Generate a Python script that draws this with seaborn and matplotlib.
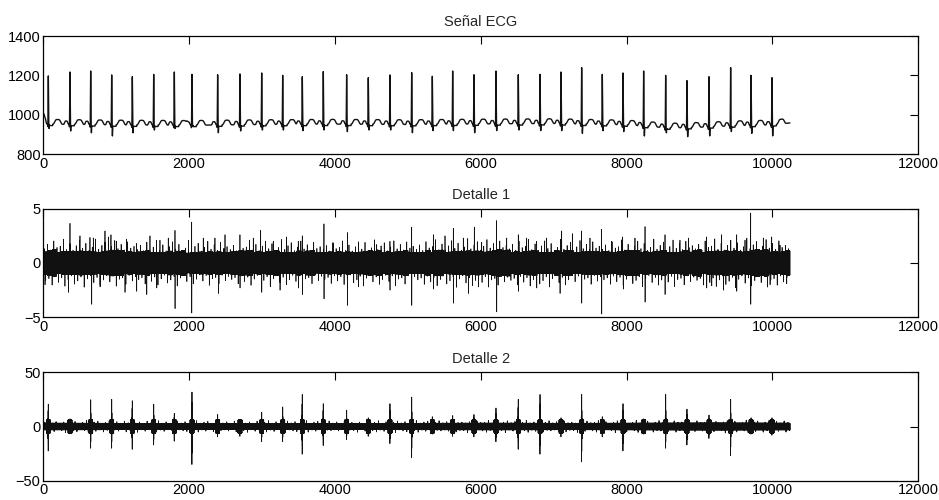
import numpy as np
import pandas as pd
import matplotlib
matplotlib.use("Agg")
import matplotlib.pyplot as plt
import seaborn as sns

N_SAMPLES = 10240

# latidos: posicion del pico R (muestra), altura del pico R y minimo de la onda S
beat_pos = [69, 366, 650, 938, 1221, 1514, 1797, 2039, 2391, 2697, 2995, 3283,
            3552, 3840, 4160, 4457, 4754, 5052, 5335, 5614, 5906, 6208, 6514,
            6812, 7100, 7383, 7666, 7950, 8233, 8535, 8827, 9129, 9426, 9706, 9993]
r_peak = [1197, 1217, 1222, 1202, 1193, 1205, 1217, 1205, 1203, 1207, 1212, 1200,
          1193, 1219, 1203, 1188, 1202, 1214, 1195, 1222, 1203, 1222, 1203,
          1205, 1217, 1239, 1205, 1212, 1222, 1200, 1173, 1193, 1239, 1200, 1188]
s_min = [930, 917, 908, 892, 908, 922, 930, 942, 908, 917, 922, 922,
         919, 922, 914, 922, 922, 908, 919, 919, 908, 919, 922,
         919, 919, 905, 919, 914, 892, 908, 888, 892, 914, 905, 892]

# linea base de la senal
base_x = [0, 40, 1000, 2000, 3000, 4000, 5000, 6000, 7000, 8000, 8600, 9000, 9500, 10000, 10239]
base_y = [995, 952, 948, 946, 950, 952, 950, 953, 955, 948, 932, 936, 944, 948, 958]

# detalle 2: picos positivos / negativos en cada latido
d2_pos = [20.6, 7, 24.6, 25, 23.7, 20.6, 12, 31.7, 11, 6, 13, 18,
          29.5, 21, 15, 8, 21, 27, 9, 10, 11, 17, 25,
          29.5, 8, 29.5, 9, 21, 7, 29.5, 16, 10.5, 25, 8, 8]
d2_neg = [22.5, 6, 20, 20, 21, 17, 13.5, 35, 9.5, 9, 14, 14,
          25.5, 17.5, 12, 9, 15.7, 28.6, 7, 9, 9.5, 14, 21,
          25.5, 9.5, 32.6, 9.5, 22.5, 7, 20, 17, 11, 27, 7, 8]

# detalle 1: picos sobresalientes
d1_up_pos = [366, 503, 640, 686, 846, 892, 928, 1006, 1143, 1280, 1463, 1600, 1714, 1806,
             2035, 2194, 2354, 2492, 2697, 2880, 2981, 3154, 3337, 3497, 3552, 3849, 3977,
             4174, 4412, 4572, 4754, 5052, 5349, 5509, 5623, 5760, 5911, 6012, 6217, 6355,
             6514, 6629, 6766, 6903, 7109, 7255, 7383, 7497, 7657, 7794, 7945, 8114, 8252,
             8526, 8731, 8846, 9097, 9303, 9509, 9623, 9701, 9874, 9989, 10103]
d1_up_h = [3.65, 2.5, 2.35, 2.3, 2.95, 2.4, 2.6, 2.0, 2.2, 1.8, 2.5, 2.1, 2.3, 3.0,
           3.75, 2.3, 2.3, 2.6, 2.6, 2.3, 3.0, 2.0, 2.4, 2.0, 2.5, 3.6, 1.8,
           2.8, 1.9, 1.7, 2.0, 3.3, 2.6, 2.5, 3.2, 2.3, 3.3, 1.9, 3.9, 2.3,
           2.6, 2.3, 2.0, 2.3, 2.95, 2.7, 2.95, 2.3, 3.1, 2.0, 2.4, 2.3, 3.35,
           2.6, 2.1, 2.3, 2.4, 2.6, 2.6, 2.1, 4.6, 2.3, 2.4, 1.65]
d1_lo_pos = [23, 343, 663, 778, 1120, 1280, 1418, 1555, 1806, 2035, 2400, 2697, 2995,
             3246, 3497, 3552, 3849, 4170, 4320, 4754, 5052, 5349, 5623, 5829, 5966,
             6217, 6514, 6766, 7086, 7383, 7657, 7954, 8252, 8526, 9097, 9166, 9326,
             9509, 9701, 9966, 10194]
d1_lo_h = [2.0, 2.7, 3.8, 2.2, 2.7, 2.6, 2.9, 2.3, 4.2, 4.6, 2.8, 2.3, 2.7,
           2.5, 2.3, 2.9, 3.3, 3.9, 2.2, 2.5, 3.9, 2.4, 3.7, 2.8, 2.2,
           4.5, 2.6, 2.3, 2.8, 3.7, 4.7, 2.4, 3.6, 2.9, 2.3, 2.1, 2.5,
           2.6, 3.8, 2.0, 1.9]

# ancho de la banda de ruido y relieve del borde
env_x = [0, 1024, 2048, 3072, 4096, 5120, 6144, 7168, 8192, 9216, 10239]
d1_band = [1.2, 1.15, 1.1, 1.15, 1.1, 1.15, 1.2, 1.15, 1.15, 1.2, 1.2]
d2_band = [3.0, 2.9, 2.8, 2.9, 2.8, 2.9, 3.0, 2.9, 3.0, 3.1, 3.0]
texture = [1.1, 1.45, 1.0, 1.7, 1.2, 1.3, 1.85, 1.05, 1.5, 1.0, 1.35, 1.75, 1.15, 1.55,
           1.0, 1.25, 1.9, 1.1, 1.4, 1.65, 1.0, 1.3, 1.8, 1.15, 1.5, 1.05, 1.7, 1.2, 1.35]

n = np.arange(N_SAMPLES)
alt = np.where(n % 2 == 0, 1.0, -1.0)

# --- senal ECG ---
base = np.interp(n, base_x, base_y)
ecg = base.copy()
for p, r, s in zip(beat_pos, r_peak, s_min):
    b = base[p]
    k = np.arange(-6, 7)
    ecg[p + k] += (r - b) * (1 - np.abs(k) / 6)
    ecg[p - 10:p - 6] -= 12
    ks = np.arange(7, 16)
    ecg[p + ks] -= (b - s) * (1 - np.abs(ks - 10) / 6).clip(0)
    ecg[p + 16:p + 60] -= 7
    seg = np.arange(p + 60, p + 200)
    ecg[seg] += 24 * np.exp(-((seg - p - 128) / 45.0) ** 4)
    seg = np.arange(p - 110, p - 12)
    seg = seg[seg >= 0]
    ecg[seg] += 17 * np.exp(-((seg - p + 52) / 24.0) ** 4)

# --- detalle 1 ---
band1 = np.interp(n, env_x, d1_band)
blocks = np.resize(np.repeat(texture[::3] + texture[1::3] + texture[2::3], 61), N_SAMPLES)
d1 = alt * band1 * (0.82 + 0.22 * (blocks - 1.0))
up_idx = np.arange(12, N_SAMPLES, 44)
lo_idx = np.arange(33, N_SAMPLES, 44)
d1[up_idx] = band1[up_idx] * np.resize(texture, len(up_idx))
d1[lo_idx] = -band1[lo_idx] * np.resize(texture[::-1], len(lo_idx))
for p, h in zip(d1_up_pos, d1_up_h):
    d1[p] = h
for p, h in zip(d1_lo_pos, d1_lo_h):
    d1[p + 1] = -h

# --- detalle 2 ---
band2 = np.interp(n, env_x, d2_band)
d2 = alt * band2
up_idx = np.arange(20, N_SAMPLES, 52)
lo_idx = np.arange(45, N_SAMPLES, 52)
d2[up_idx] = band2[up_idx] * np.resize(texture[5:] + texture[:5], len(up_idx))
d2[lo_idx] = -band2[lo_idx] * np.resize(texture[11:] + texture[:11], len(lo_idx))
kern = [0.35, -0.5, 0.7, -1.0, 1.0, -0.7, 0.5, -0.35, 0.25, -0.15]
for p, a, m in zip(beat_pos, d2_pos, d2_neg):
    blob = np.arange(p - 26, p + 28)
    blob = blob[blob >= 0]
    d2[blob] = alt[blob] * 6.0
    for j, c in enumerate(kern):
        d2[p - 4 + j] = c * (a if c > 0 else m)

df = pd.DataFrame({"n": n, "ecg": ecg, "d1": d1, "d2": d2})

sns.set_theme(style="white")
plt.rcParams["font.family"] = ["Liberation Sans", "DejaVu Sans"]

fig = plt.figure(figsize=(9.39, 5.0), dpi=100)
axes = [fig.add_axes([0.0461, 0.692, 0.9319, 0.236]),
        fig.add_axes([0.0461, 0.3654, 0.9319, 0.2172]),
        fig.add_axes([0.0461, 0.0386, 0.9319, 0.2168])]

panels = [("ecg", "Señal ECG", (800, 1400), [800, 1000, 1200, 1400], 1.0),
          ("d1", "Detalle 1", (-5, 5), [-5, 0, 5], 0.5),
          ("d2", "Detalle 2", (-50, 50), [-50, 0, 50], 0.6)]

for ax, (col, title, ylim, yticks, lw) in zip(axes, panels):
    sns.lineplot(data=df, x="n", y=col, ax=ax, color="#111111", linewidth=lw,
                 estimator=None, sort=False)
    ax.set_xlim(0, 12000)
    ax.set_ylim(*ylim)
    ax.set_xticks(range(0, 12001, 2000))
    ax.set_yticks(yticks)
    ax.set_xlabel("")
    ax.set_ylabel("")
    ax.set_title(title, fontsize=10.5, pad=7)
    ax.tick_params(direction="in", top=True, right=True, length=6, width=0.8,
                   labelsize=10.5, pad=2, colors="black")
    for sp in ax.spines.values():
        sp.set_visible(True)
        sp.set_color("black")
        sp.set_linewidth(0.9)

fig.savefig("out.png", dpi=100, facecolor="white")
